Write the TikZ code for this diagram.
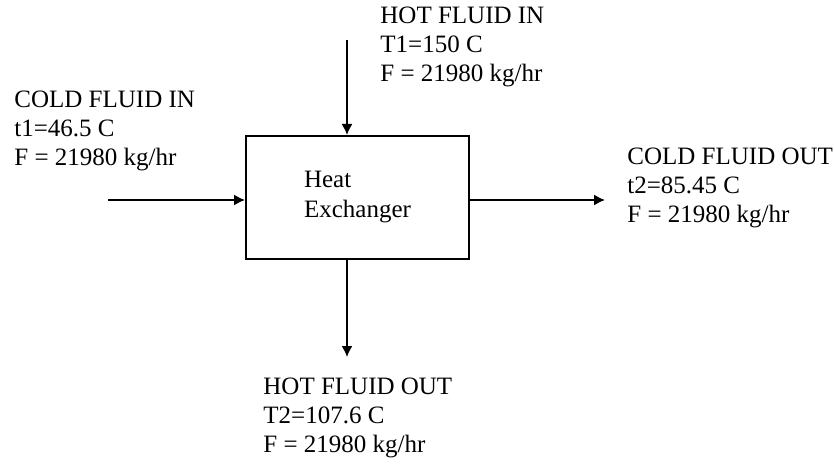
\documentclass[tikz,border=0pt]{standalone}
\usepackage{fontspec}
\setmainfont{Liberation Serif}
\usetikzlibrary{positioning,arrows.meta}
\begin{document}
\begin{tikzpicture}[
  x=0.5pt, y=0.5pt,
  flow/.style={draw, line width=0.8pt, -{Latex[length=5.5pt,width=5.5pt]}},
  unit/.style={draw, line width=1pt, minimum width=111.5pt, minimum height=61.5pt,
    inner sep=0pt, align=left, font=\fontsize{12.5}{15}\selectfont},
  info/.style={anchor=west, align=left, inner sep=0pt,
    font=\fontsize{12.5}{14.5}\selectfont}
]
\useasboundingbox (0,0) rectangle (834,472);
\node[unit] (hx) at (357.5,274.5) {Heat\\Exchanger};
% stream ends
\coordinate (hin) at (347,432);
\coordinate (hout) at (347,115);
\coordinate (cin) at (108,272);
\coordinate (cout) at (605,272);
\draw[flow] (hin) -- (hin |- hx.north);
\draw[flow] (hx.south -| hout) -- (hout);
\draw[flow] (cin) -- (cin -| hx.west);
\draw[flow] (hx.east |- cout) -- (cout);
% stream data
\node[info] (hinlbl) at (380,425) {HOT FLUID IN\\T1=150 C\\F = 21980 kg/hr};
\node[info] (cinlbl) at (14,341) {COLD FLUID IN\\t1=46.5 C\\F = 21980 kg/hr};
\node[info] (coutlbl) at (627,284) {COLD FLUID OUT\\t2=85.45 C\\F = 21980 kg/hr};
\node[info] (houtlbl) at (263,54) {HOT FLUID OUT\\T2=107.6 C\\F = 21980 kg/hr};
\end{tikzpicture}
\end{document}
